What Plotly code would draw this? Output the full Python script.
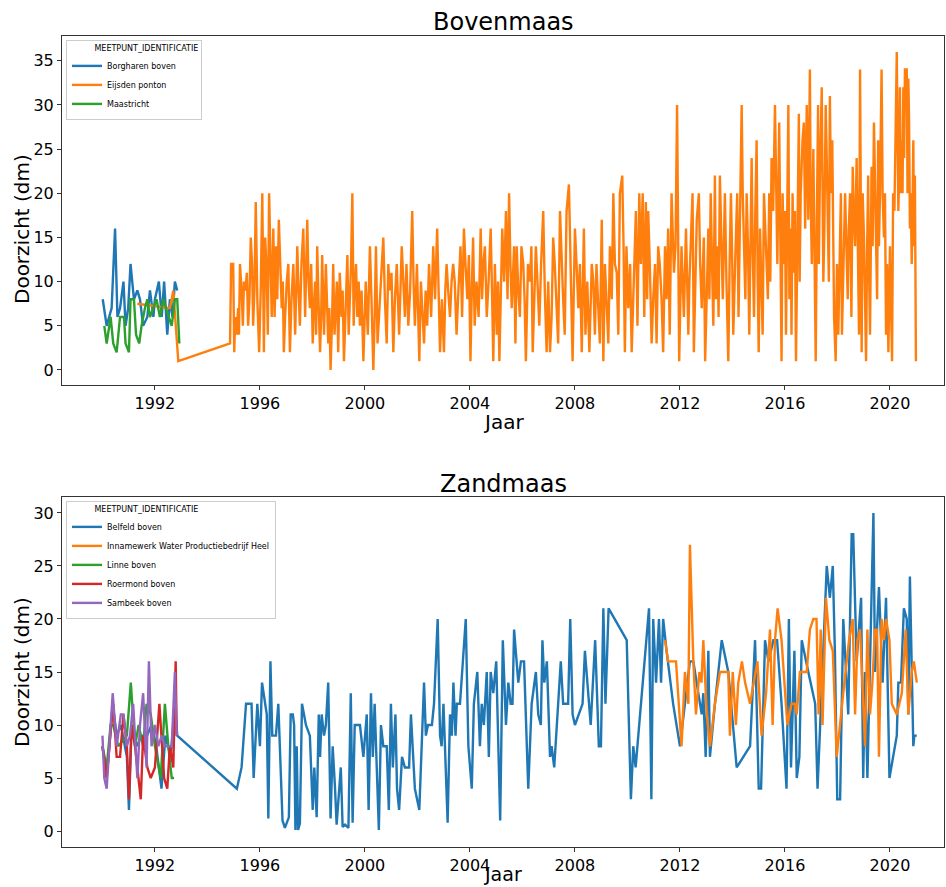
import pandas as pd
import plotly.graph_objects as go

# ---------------- Bovenmaas ----------------
borgharen_jaar = [1990.01, 1990.16, 1990.35, 1990.48, 1990.57, 1990.67, 1990.80, 1990.88, 1990.98, 1991.07,
                  1991.20, 1991.33, 1991.43, 1991.55, 1991.71, 1991.81, 1991.94, 1992.00, 1992.15, 1992.26,
                  1992.35, 1992.47, 1992.57, 1992.67, 1992.76, 1992.85]
borgharen_dm = [8, 5, 7, 16, 6, 7, 10, 5, 7, 12, 8, 9, 8, 5, 6, 9, 6, 8, 10, 6, 10, 4, 8, 6, 10, 9]

maastricht_jaar = [1990.07, 1990.16, 1990.31, 1990.41, 1990.54, 1990.67, 1990.82, 1990.88, 1991.01, 1991.07,
                   1991.20, 1991.28, 1991.40, 1991.49, 1991.62, 1991.71, 1991.81, 1991.94, 1992.06, 1992.19,
                   1992.32, 1992.42, 1992.54, 1992.64, 1992.76, 1992.85, 1992.93]
maastricht_dm = [5, 3, 6, 3, 2, 6, 6, 3, 2, 8, 8, 4, 3, 5, 7, 8, 6, 7, 8, 6, 8, 7, 6, 5, 8, 8, 3]

eijsden_jaar = [1991.33, 1992.57, 1992.70, 1992.89, 1994.86, 1994.90, 1994.98, 1995.02, 1995.11, 1995.17,
                1995.24, 1995.30, 1995.39, 1995.45, 1995.55, 1995.65, 1995.74, 1995.84, 1995.97, 1996.09,
                1996.15, 1996.26, 1996.35, 1996.45, 1996.51, 1996.61, 1996.72, 1996.83, 1996.91, 1997.02,
                1997.14, 1997.27, 1997.42, 1997.52, 1997.65, 1997.80, 1997.90, 1998.01, 1998.10, 1998.18,
                1998.29, 1998.37, 1998.51, 1998.60, 1998.69, 1998.79, 1998.89, 1998.98, 1999.11, 1999.20,
                1999.33, 1999.43, 1999.52, 1999.62, 1999.71, 1999.81, 1999.94, 2000.03, 2000.19, 2000.32,
                2000.42, 2000.55, 2000.70, 2000.83, 2000.95, 2001.08, 2001.21, 2001.40, 2001.52, 2001.65,
                2001.80, 2001.90, 2002.07, 2002.20, 2002.31, 2002.44, 2002.60, 2002.75, 2002.86, 2003.01,
                2003.11, 2003.24, 2003.30, 2003.36, 2003.49, 2003.64, 2003.77, 2003.90, 2004.02, 2004.12,
                2004.25, 2004.41, 2004.51, 2004.64, 2004.79, 2004.89, 2005.02, 2005.12, 2005.23, 2005.37,
                2005.49, 2005.59, 2005.68, 2005.78, 2005.90, 2006.03, 2006.13, 2006.29, 2006.39, 2006.51,
                2006.64, 2006.79, 2006.92, 2007.05, 2007.17, 2007.30, 2007.43, 2007.55, 2007.68, 2007.77,
                2007.91, 2008.00, 2008.13, 2008.26, 2008.34, 2008.47, 2008.64, 2008.76, 2008.89, 2009.02,
                2009.08, 2009.21, 2009.33, 2009.46, 2009.59, 2009.71, 2009.80, 2009.90, 2010.03, 2010.16,
                2010.32, 2010.45, 2010.58, 2010.70, 2010.79, 2010.92, 2011.05, 2011.17, 2011.30, 2011.43,
                2011.55, 2011.68, 2011.77, 2011.89, 2011.97, 2012.06, 2012.15, 2012.23, 2012.32, 2012.41,
                2012.48, 2012.53, 2012.64, 2012.72, 2012.83, 2012.91, 2012.96, 2013.08, 2013.17, 2013.27,
                2013.33, 2013.42, 2013.52, 2013.63, 2013.71, 2013.84, 2013.94, 2014.03, 2014.18, 2014.29,
                2014.35, 2014.44, 2014.54, 2014.64, 2014.73, 2014.82, 2014.92, 2015.00, 2015.11, 2015.20,
                2015.30, 2015.40, 2015.49, 2015.55, 2015.62, 2015.71, 2015.78, 2015.87, 2015.96, 2016.04,
                2016.13, 2016.22, 2016.29, 2016.34, 2016.42, 2016.53, 2016.60, 2016.67, 2016.72, 2016.83,
                2016.89, 2016.95, 2017.02, 2017.08, 2017.17, 2017.26, 2017.33, 2017.40, 2017.46, 2017.55,
                2017.63, 2017.71, 2017.80, 2017.87, 2017.93, 2018.03, 2018.13, 2018.22, 2018.29, 2018.39,
                2018.48, 2018.58, 2018.67, 2018.73, 2018.82, 2018.86, 2018.92, 2019.01, 2019.09, 2019.17,
                2019.24, 2019.30, 2019.39, 2019.47, 2019.55, 2019.62, 2019.68, 2019.77, 2019.85, 2019.94,
                2020.00, 2020.08, 2020.17, 2020.26, 2020.32, 2020.38, 2020.45, 2020.51, 2020.57, 2020.64,
                2020.70, 2020.76, 2020.83, 2020.89, 2020.95, 2020.99]
eijsden_dm = [7.5, 7, 9, 1, 3, 12, 12, 2, 4, 7,
              12, 9, 10, 9, 5, 15, 5, 19, 2, 20,
              2, 11, 20, 6, 16, 14, 17, 7, 2, 10,
              2, 12, 14, 5, 16, 17, 7, 3, 10, 14,
              2, 13, 12, 3, 0, 12, 8, 2, 6, 1,
              13, 9, 20, 10, 6, 5, 1, 10, 14, 0,
              14, 7, 15, 3, 9, 2, 12, 14, 6, 5,
              18, 5, 1, 6, 9, 12, 14, 16, 2, 2,
              12, 6, 10, 12, 4, 14, 16, 8, 1, 15,
              10, 16, 12, 6, 16, 1, 4, 1, 16, 18,
              20, 7, 14, 14, 6, 12, 1, 10, 2, 14,
              5, 18, 2, 2, 15, 7, 18, 8, 18, 21,
              1, 16, 7, 2, 16, 10, 12, 4, 7, 17,
              1, 7, 14, 20, 11, 20, 22, 2, 7, 2,
              18, 20, 20, 19, 18, 3, 12, 14, 8, 14,
              16, 20, 11, 30, 1, 14, 6, 16, 4, 14,
              20, 2, 17, 20, 7, 15, 1, 16, 20, 5,
              22, 14, 22, 8, 20, 1, 20, 4, 20, 16,
              30, 12, 20, 4, 24, 6, 26, 2, 10, 20,
              13, 20, 24, 18, 30, 12, 28, 1, 12, 4,
              30, 16, 20, 11, 1, 29, 20, 26, 28, 30,
              17, 34, 12, 25, 1, 30, 22, 32, 10, 30,
              18, 31, 26, 6, 1, 4, 20, 10, 20, 8,
              20, 23, 14, 24, 4, 34, 2, 15, 1, 22,
              4, 23, 28, 16, 26, 20, 34, 15, 4, 2,
              14, 1, 18, 36, 18, 32, 26, 32, 34, 34,
              33, 16, 12, 26, 22, 1]

# additional (denser) Eijsden readings in between the ones above
eijsden_extra_jaar = [1995.06, 1995.20, 1995.35, 1995.50, 1995.60, 1995.70, 1995.79, 1995.90, 1996.03, 1996.20,
                      1996.30, 1996.40, 1996.56, 1996.66, 1996.78, 1996.87, 1996.96, 1997.08, 1997.20, 1997.34,
                      1997.47, 1997.58, 1997.72, 1997.85, 1997.95, 1998.05, 1998.14, 1998.23, 1998.33, 1998.44,
                      1998.55, 1998.64, 1998.74, 1998.84, 1998.93, 1999.04, 1999.15, 1999.26, 1999.38, 1999.47,
                      1999.57, 1999.66, 1999.76, 1999.87, 1999.98, 2000.11, 2000.25, 2000.37, 2000.48, 2000.62,
                      2000.76, 2000.89, 2001.01, 2001.14, 2001.30, 2001.46, 2001.58, 2001.72, 2001.85, 2001.98,
                      2002.13, 2002.25, 2002.37, 2002.52, 2002.67, 2002.80, 2002.93, 2003.06, 2003.17, 2003.42,
                      2003.56, 2003.70, 2003.83, 2003.96, 2004.07, 2004.18, 2004.33, 2004.46, 2004.57, 2004.71,
                      2004.84, 2004.95, 2005.07, 2005.17, 2005.30, 2005.43, 2005.54, 2005.63, 2005.73, 2005.84,
                      2005.96, 2006.08, 2006.21, 2006.34, 2006.45, 2006.57, 2006.71, 2006.85, 2006.98, 2007.11,
                      2007.23, 2007.36, 2007.49, 2007.61, 2007.84, 2007.95, 2008.06, 2008.19, 2008.40, 2008.55,
                      2008.70, 2008.82, 2008.95, 2009.14, 2009.27, 2009.40, 2009.52, 2009.65, 2009.85, 2009.96,
                      2010.10, 2010.24, 2010.38, 2010.51, 2010.64, 2010.75, 2010.85, 2010.98, 2011.11, 2011.23,
                      2011.36, 2011.49, 2011.61, 2011.83, 2012.10, 2012.27, 2012.36, 2012.58, 2012.77, 2013.02,
                      2013.12, 2013.22, 2013.37, 2013.47, 2013.57, 2013.67, 2013.77, 2013.89, 2013.98, 2014.10,
                      2014.23, 2014.39, 2014.49, 2014.59, 2014.68, 2014.77, 2014.87, 2014.96, 2015.05, 2015.15,
                      2015.25, 2015.35, 2015.44, 2015.66, 2015.82, 2015.91, 2016.00, 2016.08, 2016.17, 2016.25,
                      2016.38, 2016.47, 2016.56, 2016.77, 2016.98, 2017.12, 2017.21, 2017.29, 2017.43, 2017.50,
                      2017.59, 2017.67, 2017.75, 2017.83, 2017.98, 2018.08, 2018.17, 2018.34, 2018.43, 2018.53,
                      2018.62, 2018.77, 2018.96, 2019.05, 2019.13, 2019.20, 2019.34, 2019.43, 2019.51, 2019.58,
                      2019.72, 2019.81, 2019.89, 2020.04, 2020.12, 2020.21, 2020.35, 2020.41, 2020.48, 2020.54,
                      2020.67, 2020.73, 2020.79, 2020.86, 2020.92]
eijsden_extra_dm = [6, 4, 5, 11, 8, 12, 9, 8, 9, 15,
                    4, 13, 6, 8, 12, 10, 6, 12, 8, 4,
                    9, 12, 6, 10, 12, 7, 4, 8, 6, 4,
                    8, 7, 5, 4, 10, 11, 9, 7, 4, 12,
                    5, 12, 10, 9, 5, 4, 8, 6, 3, 12,
                    8, 12, 11, 8, 4, 10, 12, 9, 10, 12,
                    10, 3, 5, 6, 8, 10, 8, 9, 9, 10,
                    9, 6, 12, 13, 9, 5, 6, 8, 14, 10,
                    9, 12, 10, 8, 10, 8, 12, 10, 3, 9,
                    14, 8, 12, 14, 8, 10, 12, 9, 10, 6,
                    12, 3, 12, 4, 10, 8, 12, 12, 4, 2,
                    10, 12, 3, 12, 3, 8, 12, 4, 14, 14,
                    12, 10, 5, 12, 6, 8, 12, 8, 3, 12,
                    2, 8, 4, 14, 10, 9, 10, 8, 12, 10,
                    8, 12, 8, 6, 16, 14, 10, 12, 14, 12,
                    6, 20, 8, 14, 12, 14, 18, 10, 16, 4,
                    16, 8, 10, 20, 16, 20, 18, 16, 8, 4,
                    18, 14, 10, 16, 20, 14, 16, 12, 20, 16,
                    24, 10, 20, 14, 12, 14, 4, 14, 16, 6,
                    18, 16, 20, 8, 14, 12, 14, 22, 8, 14,
                    20, 20, 12, 6, 20, 26, 22, 20, 20, 24,
                    20, 28, 20, 18, 14]

# ---------------- Zandmaas ----------------
belfeld_jaar = [1990.00, 1990.16, 1990.39, 1990.54, 1990.70, 1990.93, 1991.01, 1991.11, 1991.30, 1991.50,
                1991.70, 1991.87, 1992.05, 1992.25, 1992.40, 1992.60, 1992.76, 1992.85, 1995.12, 1995.30,
                1995.47, 1995.68, 1995.76, 1995.90, 1996.00, 1996.08, 1996.26, 1996.32, 1996.40, 1996.47,
                1996.61, 1996.70, 1996.86, 1996.95, 1997.10, 1997.17, 1997.25, 1997.30, 1997.35, 1997.40,
                1997.45, 1997.52, 1997.60, 1997.75, 1997.90, 1998.01, 1998.07, 1998.16, 1998.24, 1998.29,
                1998.35, 1998.44, 1998.51, 1998.60, 1998.69, 1998.77, 1998.86, 1998.92, 1999.08, 1999.15,
                1999.24, 1999.37, 1999.46, 1999.53, 1999.61, 1999.81, 1999.94, 2000.07, 2000.14, 2000.23,
                2000.30, 2000.37, 2000.45, 2000.53, 2000.61, 2000.70, 2000.83, 2000.91, 2000.99, 2001.06,
                2001.16, 2001.22, 2001.30, 2001.41, 2001.52, 2001.68, 2001.75, 2001.90, 2002.07, 2002.25,
                2002.32, 2002.40, 2002.55, 2002.63, 2002.77, 2002.86, 2002.92, 2002.99, 2003.15, 2003.24,
                2003.31, 2003.37, 2003.45, 2003.50, 2003.62, 2003.84, 2003.94, 2004.07, 2004.15, 2004.28,
                2004.38, 2004.45, 2004.53, 2004.64, 2004.72, 2004.79, 2004.89, 2005.00, 2005.15, 2005.25,
                2005.37, 2005.46, 2005.55, 2005.62, 2005.68, 2005.84, 2005.94, 2006.06, 2006.22, 2006.35,
                2006.51, 2006.60, 2006.70, 2006.76, 2006.83, 2006.93, 2007.05, 2007.11, 2007.21, 2007.46,
                2007.55, 2007.74, 2007.82, 2007.91, 2008.00, 2008.29, 2008.38, 2008.60, 2008.77, 2008.91,
                2008.99, 2009.08, 2009.16, 2009.28, 2009.97, 2010.13, 2010.22, 2010.31, 2010.82, 2010.91,
                2010.98, 2011.09, 2011.20, 2011.28, 2011.36, 2011.49, 2011.74, 2012.00, 2012.38, 2012.51,
                2012.70, 2012.83, 2012.89, 2012.98, 2013.08, 2013.14, 2013.33, 2013.59, 2013.84, 2014.03,
                2014.16, 2014.67, 2014.86, 2015.00, 2015.09, 2015.24, 2015.37, 2015.56, 2015.70, 2015.87,
                2016.06, 2016.15, 2016.23, 2016.36, 2016.45, 2016.55, 2016.64, 2016.89, 2017.15, 2017.24,
                2017.40, 2017.59, 2017.71, 2017.82, 2017.90, 2017.99, 2018.10, 2018.22, 2018.41, 2018.54,
                2018.60, 2018.73, 2018.90, 2018.98, 2019.05, 2019.14, 2019.37, 2019.43, 2019.58, 2019.72,
                2019.85, 2019.98, 2020.26, 2020.32, 2020.42, 2020.53, 2020.64, 2020.70, 2020.76, 2020.89,
                2020.93, 2021.02]
belfeld_dm = [8, 5, 12, 9, 10, 7, 2, 10, 8, 9,
              9, 10, 8, 4, 9, 7, 12, 9, 4, 6,
              12, 12, 5, 12, 8, 14, 11, 1.2, 16, 9,
              9, 12, 1, 0.3, 1.3, 11, 11, 10, 0.1, 8,
              0.1, 0.7, 12, 10, 9, 2, 6, 1.3, 11, 7,
              11, 9, 10, 14, 1.2, 8, 4, 0.6, 6, 0.4,
              0.6, 0.3, 13, 0.8, 10, 10, 7, 11, 2, 13,
              7, 12, 6, 0.1, 10, 8, 8, 2, 12, 6,
              11, 4, 2, 7, 6, 6, 11, 4, 2, 14,
              9, 10, 10, 12, 20, 9, 8, 12, 0.8, 11,
              9, 14, 9, 12, 12, 20, 8, 4, 12, 15,
              8, 12, 10, 15, 7, 15, 13, 16, 1, 18,
              10, 14, 12, 12, 19, 14, 16, 16, 4, 12,
              15, 11, 10, 18, 14, 16, 7, 8, 6, 16,
              12, 12, 20, 11, 10, 12, 17, 10, 18, 8,
              8, 21, 12, 21, 18, 3, 8, 6, 21, 3,
              20, 14, 20, 14, 20, 17, 12, 8, 16, 16,
              13, 11, 13, 7, 17, 7, 12, 18, 15, 10,
              6, 8, 18, 4, 4, 18, 16, 18, 18, 12,
              4, 20, 6, 17, 5, 7, 18, 15, 12, 4,
              14, 25, 22, 25, 17, 3, 3, 20, 11, 28,
              28, 16, 22, 5, 15, 5, 30, 15, 23, 14,
              22, 5, 9, 14, 14, 21, 20, 11, 24, 8,
              9, 9]

heel_jaar = [2011.43, 2011.55, 2011.85, 2012.06, 2012.19, 2012.32, 2012.38, 2012.51, 2012.61, 2012.74,
             2012.82, 2012.89, 2013.02, 2013.14, 2013.33, 2013.52, 2013.84, 2013.90, 2014.01, 2014.13,
             2014.22, 2014.36, 2014.48, 2014.67, 2014.95, 2015.11, 2015.28, 2015.43, 2015.53, 2015.62,
             2015.72, 2015.87, 2016.09, 2016.25, 2016.37, 2016.45, 2016.57, 2016.83, 2016.95, 2017.08,
             2017.20, 2017.28, 2017.36, 2017.43, 2017.56, 2017.69, 2017.82, 2017.97, 2018.22, 2018.35,
             2018.44, 2018.58, 2018.67, 2018.76, 2018.86, 2019.05, 2019.14, 2019.24, 2019.33, 2019.43,
             2019.51, 2019.58, 2019.68, 2019.77, 2019.85, 2019.98, 2020.07, 2020.26, 2020.45, 2020.60,
             2020.70, 2020.83, 2020.91, 2021.02]
heel_dm = [18, 16, 16, 8, 15, 12, 27, 16, 11, 15,
           14, 18, 11, 8, 12, 15, 15, 9, 15, 10,
           14, 16, 14, 12, 16, 9, 13, 19, 10, 18,
           21, 18, 10, 12, 12, 11, 15, 15, 19, 20,
           20, 11, 19, 10, 22, 18, 17, 7, 13, 16,
           18, 20, 11, 18, 19, 8, 19, 11, 14, 19,
           19, 7, 20, 18, 20, 18, 12, 11, 13, 19,
           11, 15, 16, 14]

linne_jaar = [1990.00, 1990.16, 1990.31, 1990.41, 1990.60, 1990.93, 1991.08, 1991.24, 1991.38, 1991.55,
              1991.68, 1991.84, 1992.00, 1992.22, 1992.38, 1992.51, 1992.64, 1992.73]
linne_dm = [8, 6, 10, 10, 8, 9, 14, 8, 10, 8, 12, 11, 8, 5, 12, 8, 5, 5]

roermond_jaar = [1990.00, 1990.16, 1990.30, 1990.41, 1990.54, 1990.67, 1990.80, 1990.93, 1991.01, 1991.11,
                 1991.24, 1991.46, 1991.55, 1991.71, 1991.84, 1992.00, 1992.17, 1992.26, 1992.35, 1992.47,
                 1992.57, 1992.70, 1992.79, 1992.83]
roermond_dm = [8, 5, 9, 12, 7, 7, 11, 8, 3, 10, 8, 3, 9, 6, 5, 6, 12, 8, 5, 4, 8, 6, 16, 9]

sambeek_jaar = [1990.00, 1990.07, 1990.16, 1990.39, 1990.54, 1990.70, 1990.80, 1990.93, 1991.05, 1991.17,
                1991.33, 1991.43, 1991.55, 1991.68, 1991.77, 1991.87, 1992.00, 1992.13, 1992.26, 1992.38,
                1992.51, 1992.64, 1992.76, 1992.83]
sambeek_dm = [9, 5, 4, 13, 8, 11, 11, 8, 9, 12, 5, 10, 13, 6, 16, 8, 10, 8, 9, 8, 8, 8, 15, 9]

x_ticks_years = [1992, 1996, 2000, 2004, 2008, 2012, 2016, 2020]

C_BLUE, C_ORANGE, C_GREEN, C_RED, C_PURPLE = "#1f77b4", "#ff7f0e", "#2ca02c", "#d62728", "#9467bd"


def to_dt(years):
    out = []
    for y in years:
        yr = int(y)
        out.append(pd.Timestamp(yr, 1, 1) + pd.Timedelta(days=(y - yr) * 365.25))
    return out


# merge the Eijsden readings into one time-ordered series
eijsden_pairs = sorted(zip(eijsden_jaar + eijsden_extra_jaar, eijsden_dm + eijsden_extra_dm))
eijsden_all_jaar = [p[0] for p in eijsden_pairs]
eijsden_all_dm = [p[1] for p in eijsden_pairs]

fig = go.Figure()
LW = 2.4

top_series = [("Borgharen boven", borgharen_jaar, borgharen_dm, C_BLUE),
              ("Eijsden ponton", eijsden_all_jaar, eijsden_all_dm, C_ORANGE),
              ("Maastricht", maastricht_jaar, maastricht_dm, C_GREEN)]
for name, xs, ys, c in top_series:
    fig.add_trace(go.Scatter(x=to_dt(xs), y=ys, mode="lines", name=name,
                             line=dict(color=c, width=LW), xaxis="x", yaxis="y", legend="legend"))

bottom_series = [("Belfeld boven", belfeld_jaar, belfeld_dm, C_BLUE),
                 ("Innamewerk Water Productiebedrijf Heel", heel_jaar, heel_dm, C_ORANGE),
                 ("Linne boven", linne_jaar, linne_dm, C_GREEN),
                 ("Roermond boven", roermond_jaar, roermond_dm, C_RED),
                 ("Sambeek boven", sambeek_jaar, sambeek_dm, C_PURPLE)]
for name, xs, ys, c in bottom_series:
    fig.add_trace(go.Scatter(x=to_dt(xs), y=ys, mode="lines", name=name,
                             line=dict(color=c, width=LW), xaxis="x2", yaxis="y2", legend="legend2"))

W, H = 946, 887
xdom = [62 / W, 944 / W]
top_dom = [1 - 385 / H, 1 - 36 / H]
bot_dom = [1 - 847 / H, 1 - 497 / H]
xrange_ = ["1988-06-17", "2022-01-22"]
tickvals = [pd.Timestamp(y, 1, 1) for y in x_ticks_years]
ticktext = [str(y) for y in x_ticks_years]

axis_common = dict(showline=True, linecolor="#333333", linewidth=1, mirror=True,
                   ticks="outside", ticklen=4, tickcolor="#333333", showgrid=False, zeroline=False,
                   tickfont=dict(size=16, color="#000000"))

legend_title = "\u00a0" * 10 + "MEETPUNT_IDENTIFICATIE"
legend_common = dict(xanchor="left", yanchor="top",
                     bgcolor="rgba(255,255,255,0.8)", bordercolor="#cccccc", borderwidth=1,
                     font=dict(size=8), title=dict(text=legend_title, font=dict(size=8)),
                     tracegroupgap=0, itemwidth=30)

xmid = (xdom[0] + xdom[1]) / 2


def text_ann(text, x, y, size, angle=0):
    return dict(text=text, x=x, y=y, xref="paper", yref="paper", showarrow=False,
                font=dict(size=size), xanchor="center", yanchor="middle", textangle=angle)


fig.update_layout(
    width=W, height=H, margin=dict(l=0, r=0, t=0, b=0),
    paper_bgcolor="white", plot_bgcolor="white",
    font=dict(family="DejaVu Sans", color="#000000"),
    xaxis=dict(domain=xdom, anchor="y", type="date", range=xrange_, tickvals=tickvals, ticktext=ticktext,
               **axis_common),
    yaxis=dict(domain=top_dom, anchor="x", range=[-1.7, 37.8], tickvals=[0, 5, 10, 15, 20, 25, 30, 35],
               **axis_common),
    xaxis2=dict(domain=xdom, anchor="y2", type="date", range=xrange_, tickvals=tickvals, ticktext=ticktext,
                **axis_common),
    yaxis2=dict(domain=bot_dom, anchor="x2", range=[-1.5, 31.5], tickvals=[0, 5, 10, 15, 20, 25, 30],
                **axis_common),
    legend=dict(x=66 / W, y=1 - 40 / H, **legend_common),
    legend2=dict(x=66 / W, y=1 - 501 / H, **legend_common),
    annotations=[
        text_ann("Bovenmaas", xmid, 1 - 22 / H, 24),
        text_ann("Zandmaas", xmid, 1 - 484 / H, 24),
        text_ann("Jaar", xmid, 1 - 422 / H, 20),
        text_ann("Jaar", xmid, 1 - 874 / H, 19),
        text_ann("Doorzicht (dm)", 22 / W, 1 - 229 / H, 20, -90),
        text_ann("Doorzicht (dm)", 22 / W, 1 - 672 / H, 20, -90),
    ],
)

fig.write_html("out.html")
